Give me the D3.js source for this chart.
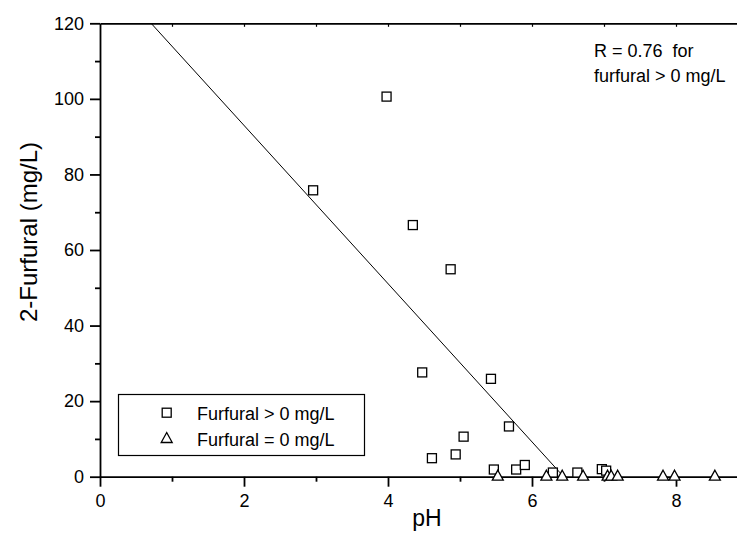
<!DOCTYPE html>
<html>
<head>
<meta charset="utf-8">
<script src="https://d3js.org/d3.v7.min.js"></script>
<style>
  body { margin: 0; background: white; }
  text { font-family: "Liberation Sans", Arial, sans-serif; fill: black; }
</style>
</head>
<body>
<div id="chart"></div>
<script>
// furfural > 0 mg/L (squares)
squarePH = [2.96, 3.98, 4.345, 4.87, 4.475, 5.43, 5.68, 5.05, 4.61, 4.94, 5.47, 5.78, 5.90, 6.29, 6.63, 6.97, 7.03]
squareF  = [75.8, 100.6, 66.6, 54.9, 27.6, 25.9, 13.3, 10.6, 4.9, 5.9, 1.9, 1.9, 3.1, 1.1, 1.1, 2.0, 1.6]

// furfural = 0 mg/L (triangles)
trianglePH = [5.525, 6.20, 6.42, 6.71, 7.05, 7.10, 7.19, 7.82, 7.98, 8.54]
triangleF  = [0, 0, 0, 0, 0, 0, 0, 0, 0, 0]

// regression line end points
fitPH = [0.71, 6.44]
fitF  = [120, 0]

xMajor = [0, 2, 4, 6, 8]
xMinor = [1, 3, 5, 7]
yMajor = [0, 20, 40, 60, 80, 100, 120]
yMinor = [10, 30, 50, 70, 90, 110]

width = 737
height = 533

svg = d3.select('#chart')
  .append('svg')
  .attr('width', width)
  .attr('height', height)

xScale = d3.scaleLinear()
  .domain([0, 8.85])
  .range([100, 737.2])

yScale = d3.scaleLinear()
  .domain([0, 120])
  .range([476.7, 23.3])

//////// top border with small inward ticks
svg.append('g')
  .attr('transform', `translate(0 ${yScale(120)})`)
  .call(d3.axisTop(xScale).tickValues(d3.range(1, 9)).tickSize(-3.5).tickSizeOuter(0).tickFormat(''))
  .call(g => g.select('.domain').attr('stroke-width', 1.8))
  .call(g => g.selectAll('.tick line').attr('stroke-width', 1.2))

//////// x axis
svg.append('g')
  .attr('transform', `translate(0 ${yScale(0)})`)
  .call(d3.axisBottom(xScale).tickValues(xMinor).tickSize(5).tickSizeOuter(0).tickFormat(''))
  .call(g => g.select('.domain').remove())
  .call(g => g.selectAll('.tick line').attr('stroke-width', 1.8))

svg.append('g')
  .attr('transform', `translate(0 ${yScale(0)})`)
  .call(d3.axisBottom(xScale).tickValues(xMajor).tickSize(10).tickPadding(7.5).tickSizeOuter(0))
  .call(g => g.select('.domain').attr('stroke-width', 1.8))
  .call(g => g.selectAll('.tick line').attr('stroke-width', 1.8))
  .call(g => g.selectAll('text').attr('font-size', 18).attr('font-family', '"Liberation Sans", Arial, sans-serif'))

//////// y axis
svg.append('g')
  .attr('transform', `translate(${xScale(0)} 0)`)
  .call(d3.axisLeft(yScale).tickValues(yMinor).tickSize(5).tickSizeOuter(0).tickFormat(''))
  .call(g => g.select('.domain').remove())
  .call(g => g.selectAll('.tick line').attr('stroke-width', 1.8))

svg.append('g')
  .attr('transform', `translate(${xScale(0)} 0)`)
  .call(d3.axisLeft(yScale).tickValues(yMajor).tickSize(10).tickPadding(6).tickSizeOuter(0))
  .call(g => g.select('.domain').attr('stroke-width', 1.8))
  .call(g => g.selectAll('.tick line').attr('stroke-width', 1.8))
  .call(g => g.selectAll('text').attr('font-size', 18).attr('font-family', '"Liberation Sans", Arial, sans-serif'))

//////// axis titles
svg.append('text')
  .attr('x', 427)
  .attr('y', 526)
  .attr('text-anchor', 'middle')
  .attr('font-size', 23)
  .text('pH')

svg.append('text')
  .attr('transform', 'translate(37 232) rotate(-90)')
  .attr('text-anchor', 'middle')
  .attr('font-size', 24)
  .text('2-Furfural (mg/L)')

//////// regression line
fitData = fitPH.map((p, i) => ({ ph: p, f: fitF[i] }))
svg.append('path')
  .datum(fitData)
  .attr('fill', 'none')
  .attr('stroke', 'black')
  .attr('stroke-width', 1)
  .attr('d', d3.line().x(d => xScale(d.ph)).y(d => yScale(d.f)))

//////// points
squares = squarePH.map((p, i) => ({ ph: p, f: squareF[i] }))
triangles = trianglePH.map((p, i) => ({ ph: p, f: triangleF[i] }))

svg.append('g')
  .selectAll('rect')
  .data(squares)
  .join('rect')
  .attr('x', d => xScale(d.ph) - 4.5)
  .attr('y', d => yScale(d.f) - 4.5)
  .attr('width', 9)
  .attr('height', 9)
  .attr('fill', 'white')
  .attr('stroke', 'black')
  .attr('stroke-width', 1.3)

triPath = 'M0,-6.5 L5.5,3.5 L-5.5,3.5 Z'
svg.append('g')
  .selectAll('path')
  .data(triangles)
  .join('path')
  .attr('transform', d => `translate(${xScale(d.ph)} ${yScale(d.f)})`)
  .attr('d', triPath)
  .attr('fill', 'white')
  .attr('stroke', 'black')
  .attr('stroke-width', 1.3)

//////// annotation
svg.append('text')
  .attr('x', 594)
  .attr('y', 57)
  .attr('font-size', 18)
  .style('white-space', 'pre')
  .text('R = 0.76  for')

svg.append('text')
  .attr('x', 594)
  .attr('y', 82)
  .attr('font-size', 18)
  .text('furfural > 0 mg/L')

//////// legend
legend = svg.append('g')
legend.append('rect')
  .attr('x', 118.5)
  .attr('y', 394.5)
  .attr('width', 246)
  .attr('height', 61)
  .attr('fill', 'white')
  .attr('stroke', 'black')
  .attr('stroke-width', 1.2)

legend.append('rect')
  .attr('x', 166.7 - 4.5)
  .attr('y', 412.7 - 4.5)
  .attr('width', 9)
  .attr('height', 9)
  .attr('fill', 'white')
  .attr('stroke', 'black')
  .attr('stroke-width', 1.3)

legend.append('path')
  .attr('transform', 'translate(166.7 439)')
  .attr('d', triPath)
  .attr('fill', 'white')
  .attr('stroke', 'black')
  .attr('stroke-width', 1.3)

legend.append('text')
  .attr('x', 197)
  .attr('y', 420)
  .attr('font-size', 18)
  .text('Furfural > 0 mg/L')

legend.append('text')
  .attr('x', 197)
  .attr('y', 445.5)
  .attr('font-size', 18)
  .text('Furfural = 0 mg/L')
</script>
</body>
</html>
